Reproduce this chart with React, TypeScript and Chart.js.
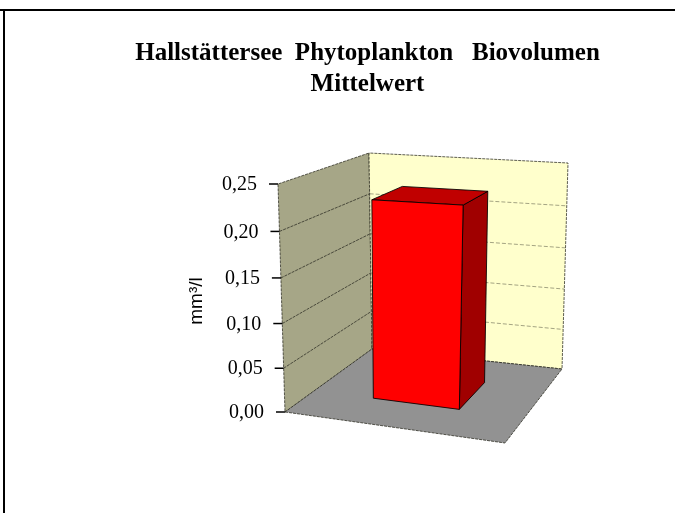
import React, { useEffect, useRef } from "react";
import { Chart, registerables } from "chart.js";

Chart.register(...registerables);

const categories = ["Mittelwert"];
const biovolumen = [0.225];
const titleLines = ["Hallstättersee  Phytoplankton   Biovolumen", "Mittelwert"];
const axisTitle = "mm³/l";
const yMin = 0;
const yMax = 0.25;
const yStep = 0.05;

type Pt = [number, number];
// Projected corners of the 3D plot box (f = front, b = back, l/r, bottom/top)
const box = {
  flb: [285, 412] as Pt, frb: [505, 443] as Pt, blb: [372, 349] as Pt, brb: [562, 369] as Pt,
  flt: [278, 184] as Pt, frt: [515, 196] as Pt, blt: [369, 153] as Pt, brt: [568, 163] as Pt,
};
const lerp = (a: Pt, b: Pt, t: number): Pt => [a[0] + (b[0] - a[0]) * t, a[1] + (b[1] - a[1]) * t];
const project = (u: number, v: number, w: number): Pt => {
  const vv = v - 0.05 * v * (1 - v);
  const bottom = lerp(lerp(box.flb, box.frb, u), lerp(box.blb, box.brb, u), w);
  const top = lerp(lerp(box.flt, box.frt, u), lerp(box.blt, box.brt, u), w);
  return lerp(bottom, top, vv);
};

const poly = (ctx: CanvasRenderingContext2D, pts: Pt[], fill: string, stroke: string, dash: number[] = []) => {
  ctx.beginPath();
  pts.forEach((p, i) => (i ? ctx.lineTo(p[0], p[1]) : ctx.moveTo(p[0], p[1])));
  ctx.closePath();
  ctx.fillStyle = fill;
  ctx.fill();
  ctx.setLineDash(dash);
  ctx.strokeStyle = stroke;
  ctx.lineWidth = 1;
  ctx.stroke();
  ctx.setLineDash([]);
};
const seg = (ctx: CanvasRenderingContext2D, a: Pt, b: Pt, stroke: string, dash: number[] = [], lw = 1) => {
  ctx.beginPath();
  ctx.moveTo(a[0], a[1]);
  ctx.lineTo(b[0], b[1]);
  ctx.setLineDash(dash);
  ctx.strokeStyle = stroke;
  ctx.lineWidth = lw;
  ctx.stroke();
  ctx.setLineDash([]);
};

const excel3d = {
  id: "excel3d",
  beforeDatasetsDraw(chart: any) {
    const { ctx, scales } = chart;
    const y = scales.y;
    const frac = (val: number) => (val - y.min) / (y.max - y.min);
    const edge = "rgba(40,40,30,0.75)";
    ctx.save();
    poly(ctx, [box.flb, box.blb, box.blt, box.flt], "#a6a687", edge, [3, 1]);
    poly(ctx, [box.blb, box.brb, box.brt, box.blt], "#ffffcc", edge, [3, 1]);
    poly(ctx, [box.flb, box.frb, box.brb, box.blb], "#929292", edge, [3, 1]);
    y.ticks.forEach((t: any) => {
      const v = frac(t.value);
      if (v > 0 && v < 1) {
        seg(ctx, project(0, v, 0), project(0, v, 1), "rgba(50,50,40,0.8)", [3, 1]);
        seg(ctx, project(0, v, 1), project(1, v, 1), "rgba(90,90,70,0.55)", [4, 2]);
      }
      const p = project(0, v, 0);
      seg(ctx, [p[0] - 9, p[1]], p, "#000", [], 1.5);
      ctx.fillStyle = "#000";
      ctx.font = y.options.ticks.font.size + "px " + y.options.ticks.font.family;
      ctx.textAlign = "right";
      ctx.textBaseline = "middle";
      ctx.fillText(t.label, p[0] - 21, p[1] + 1);
    });
    ctx.save();
    ctx.translate(197, 301);
    ctx.rotate(-Math.PI / 2);
    ctx.font = '19px "Liberation Sans"';
    ctx.textAlign = "center";
    ctx.textBaseline = "middle";
    ctx.fillStyle = "#000";
    ctx.fillText(axisTitle, 0, 0);
    ctx.restore();
    ctx.restore();
  },
  beforeDatasetDraw(chart: any, args: any) {
    const { ctx, chartArea, scales } = chart;
    const y = scales.y;
    const ds = chart.data.datasets[args.index];
    const meta = chart.getDatasetMeta(args.index);
    const w0 = 0.34;
    const w1 = 0.72;
    ctx.save();
    meta.data.forEach((el: any) => {
      const span = chartArea.right - chartArea.left;
      const u0 = (el.x - el.width / 2 - chartArea.left) / span - 0.015;
      const u1 = (el.x + el.width / 2 - chartArea.left) / span - 0.015;
      const v = (y.bottom - el.y) / (y.bottom - y.top);
      const dark = "rgba(0,0,0,0.85)";
      poly(ctx, [project(u1, 0, w0), project(u1, 0, w1), project(u1, v, w1), project(u1, v, w0)], "#a00000", dark);
      poly(ctx, [project(u0, v, w0), project(u1, v, w0), project(u1, v, w1), project(u0, v, w1)], "#c00000", dark);
      poly(ctx, [project(u0, 0, w0), project(u1, 0, w0), project(u1, v, w0), project(u0, v, w0)], ds.backgroundColor, dark);
    });
    ctx.restore();
    return false;
  },
};

export default function App() {
  const ref = useRef<HTMLCanvasElement | null>(null);
  useEffect(() => {
    const chart = new Chart(ref.current as HTMLCanvasElement, {
      type: "bar",
      data: {
        labels: categories,
        datasets: [{ label: "Biovolumen", data: biovolumen, backgroundColor: "#ff0000", barPercentage: 0.41, categoryPercentage: 1 }],
      },
      plugins: [excel3d],
      options: {
        animation: false,
        responsive: false,
        layout: { padding: { left: 60, right: 0, top: 0, bottom: 101 } },
        plugins: {
          legend: { display: false },
          tooltip: { enabled: false },
          title: {
            display: true,
            text: titleLines,
            color: "#000",
            font: { family: '"Liberation Serif"', size: 25, weight: "bold", lineHeight: "31px" },
            padding: { top: 38, bottom: 83 },
          },
        },
        scales: {
          x: { display: false },
          y: {
            min: yMin,
            max: yMax,
            afterFit: (s: any) => { s.width = 225; },
            grid: { display: false },
            border: { display: false },
            ticks: {
              display: false,
              stepSize: yStep,
              font: { family: '"Liberation Serif"', size: 20 },
              callback: (v: any) => Number(v).toFixed(2).replace(".", ","),
            },
          },
          spacer: {
            position: "right",
            afterFit: (s: any) => { s.width = 170; },
            grid: { display: false },
            border: { display: false },
            ticks: { display: false },
          },
        },
      },
    } as any);
    return () => chart.destroy();
  }, []);
  return (
    <div style={{ position: "absolute", left: 0, top: 0, width: 675, height: 513, background: "#fff", overflow: "hidden" }}>
      <canvas ref={ref} width={675} height={513} style={{ display: "block", filter: "blur(0.5px)" }} />
      <div style={{ position: "absolute", left: 0, top: 9, width: 675, height: 2, background: "#000" }} />
      <div style={{ position: "absolute", left: 3, top: 9, width: 2, height: 504, background: "#000" }} />
    </div>
  );
}
